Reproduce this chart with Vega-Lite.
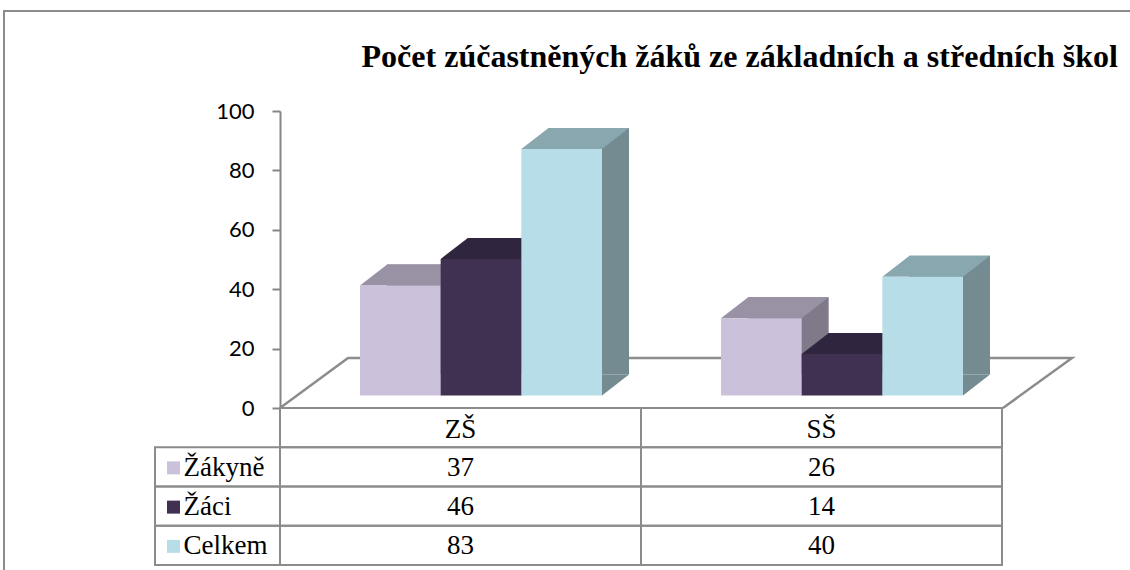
{
  "$schema": "https://vega.github.io/schema/vega-lite/v6.json",
  "width": 1126,
  "height": 559,
  "autosize": {"type": "none"},
  "padding": {"left": 4, "top": 11, "right": 0, "bottom": 0},
  "background": "white",
  "config": {"view": {"stroke": "#8c8c8c", "strokeWidth": 2, "strokeDash": [1126, 1685, 559, 1]}, "font": "Liberation Serif"},
  "title": {
    "text": "Počet zúčastněných žáků ze základních a středních škol",
    "font": "Liberation Serif", "fontSize": 32, "fontWeight": "bold", "color": "#000000",
    "anchor": "end", "frame": "group", "orient": "top", "offset": -88, "dx": -12, "baseline": "alphabetic"
  },
  "data": {"values": [
    {"skola": "ZŠ", "skupina": "Žákyně", "pocet": 37},
    {"skola": "ZŠ", "skupina": "Žáci", "pocet": 46},
    {"skola": "ZŠ", "skupina": "Celkem", "pocet": 83},
    {"skola": "SŠ", "skupina": "Žákyně", "pocet": 26},
    {"skola": "SŠ", "skupina": "Žáci", "pocet": 14},
    {"skola": "SŠ", "skupina": "Celkem", "pocet": 40}
  ]},
  "layer": [
    {
      "layer": [
        {
          "data": {"values": [{}]},
          "mark": {"type": "point", "shape": "M-3.61,0L-2.25,-1L12.23,-1L10.85,0", "size": 10000, "filled": false, "color": "#8c8c8c", "strokeWidth": 2.5, "opacity": 1},
          "encoding": {
            "x": {"datum": "ZŠ", "type": "nominal", "scale": {"domain": ["ZŠ", "SŠ"], "range": [276, 998], "paddingInner": 0, "paddingOuter": 0}, "axis": null},
            "y": {"datum": 0, "type": "quantitative", "scale": {"domain": [0, 100], "range": [397, 100], "nice": false, "zero": true},
                  "axis": {"values": [0, 20, 40, 60, 80, 100], "offset": -276, "title": null, "grid": false, "domainColor": "#868686", "domainWidth": 2, "tickColor": "#868686", "tickWidth": 2, "tickSize": 8, "labelFont": "Lato", "labelFontSize": 22, "labelColor": "#000000", "labelPadding": 18}}
          }
        },
        {
          "mark": {"type": "bar", "yOffset": -33.5, "y2Offset": -33.5},
          "encoding": {
            "x": {"field": "skola", "type": "nominal", "scale": {"domain": ["ZŠ", "SŠ"], "range": [276, 998], "paddingInner": 0, "paddingOuter": 0}, "axis": null},
            "xOffset": {"field": "skupina", "type": "nominal", "scale": {"domain": ["Žákyně", "Žáci", "Celkem"], "range": [107, 349], "paddingInner": 0, "paddingOuter": 0}},
            "y": {"field": "pocet", "type": "quantitative", "scale": {"domain": [0, 100], "range": [397, 100], "nice": false, "zero": true},
                  "axis": {"values": [0, 20, 40, 60, 80, 100], "offset": -276, "title": null, "grid": false, "domainColor": "#868686", "domainWidth": 2, "tickColor": "#868686", "tickWidth": 2, "tickSize": 8, "labelFont": "Lato", "labelFontSize": 22, "labelColor": "#000000", "labelPadding": 18}},
            "y2": {"datum": 0},
            "color": {"field": "skupina", "type": "nominal", "scale": {"domain": ["Žákyně", "Žáci", "Celkem"], "range": ["#807989", "#281F34", "#738B91"]}, "legend": null}
          }
        },
        {
          "mark": {"type": "point", "shape": "M0.8067,-0.42L1.3467,-0.42L0.8067,0Z", "size": 10000, "filled": true, "opacity": 1, "yOffset": -12.5},
          "encoding": {
            "x": {"field": "skola", "type": "nominal", "scale": {"domain": ["ZŠ", "SŠ"], "range": [276, 998], "paddingInner": 0, "paddingOuter": 0}, "axis": null},
            "xOffset": {"field": "skupina", "type": "nominal", "scale": {"type": "point", "domain": ["Žákyně", "Žáci", "Celkem"], "range": [120.33, 281.67], "padding": 0}},
            "y": {"datum": 0, "type": "quantitative", "scale": {"domain": [0, 100], "range": [397, 100], "nice": false, "zero": true},
                  "axis": {"values": [0, 20, 40, 60, 80, 100], "offset": -276, "title": null, "grid": false, "domainColor": "#868686", "domainWidth": 2, "tickColor": "#868686", "tickWidth": 2, "tickSize": 8, "labelFont": "Lato", "labelFontSize": 22, "labelColor": "#000000", "labelPadding": 18}},
            "color": {"field": "skupina", "type": "nominal", "scale": {"domain": ["Žákyně", "Žáci", "Celkem"], "range": ["#807989", "#281F34", "#738B91"]}, "legend": null}
          }
        },
        {
          "mark": {"type": "point", "shape": "M-0.8067,0L0.8067,0L1.3467,-0.42L-0.2633,-0.42Z", "size": 10000, "filled": true, "opacity": 1, "yOffset": -12.5},
          "encoding": {
            "x": {"field": "skola", "type": "nominal", "scale": {"domain": ["ZŠ", "SŠ"], "range": [276, 998], "paddingInner": 0, "paddingOuter": 0}, "axis": null},
            "xOffset": {"field": "skupina", "type": "nominal", "scale": {"type": "point", "domain": ["Žákyně", "Žáci", "Celkem"], "range": [120.33, 281.67], "padding": 0}},
            "y": {"field": "pocet", "type": "quantitative", "scale": {"domain": [0, 100], "range": [397, 100], "nice": false, "zero": true},
                  "axis": {"values": [0, 20, 40, 60, 80, 100], "offset": -276, "title": null, "grid": false, "domainColor": "#868686", "domainWidth": 2, "tickColor": "#868686", "tickWidth": 2, "tickSize": 8, "labelFont": "Lato", "labelFontSize": 22, "labelColor": "#000000", "labelPadding": 18}},
            "color": {"field": "skupina", "type": "nominal", "scale": {"domain": ["Žákyně", "Žáci", "Celkem"], "range": ["#9991A4", "#30253E", "#89A7AE"]}, "legend": null}
          }
        },
        {
          "mark": {"type": "bar", "yOffset": -12.5, "y2Offset": -12.5},
          "encoding": {
            "x": {"field": "skola", "type": "nominal", "scale": {"domain": ["ZŠ", "SŠ"], "range": [276, 998], "paddingInner": 0, "paddingOuter": 0}, "axis": null},
            "xOffset": {"field": "skupina", "type": "nominal", "scale": {"domain": ["Žákyně", "Žáci", "Celkem"], "range": [80, 322], "paddingInner": 0, "paddingOuter": 0}},
            "y": {"field": "pocet", "type": "quantitative", "scale": {"domain": [0, 100], "range": [397, 100], "nice": false, "zero": true},
                  "axis": {"values": [0, 20, 40, 60, 80, 100], "offset": -276, "title": null, "grid": false, "domainColor": "#868686", "domainWidth": 2, "tickColor": "#868686", "tickWidth": 2, "tickSize": 8, "labelFont": "Lato", "labelFontSize": 22, "labelColor": "#000000", "labelPadding": 18}},
            "y2": {"datum": 0},
            "color": {"field": "skupina", "type": "nominal", "scale": {"domain": ["Žákyně", "Žáci", "Celkem"], "range": ["#CCC1DA", "#403152", "#B7DEE8"]}, "legend": null}
          }
        }
      ],
      "resolve": {"scale": {"color": "independent", "xOffset": "independent"}}
    },
    {
      "layer": [
        {
          "mark": {"type": "rect", "fill": "#ffffff", "fillOpacity": 0, "stroke": "#8c8c8c", "strokeWidth": 2},
          "encoding": {
            "x": {"field": "skola", "type": "nominal", "scale": {"domain": ["ZŠ", "SŠ"], "range": [276, 998], "paddingInner": 0, "paddingOuter": 0}, "axis": null},
            "y": {"field": "skupina", "type": "nominal", "scale": {"domain": ["header", "Žákyně", "Žáci", "Celkem"], "range": [397, 554], "paddingInner": 0, "paddingOuter": 0}, "axis": null}
          }
        },
        {
          "transform": [{"filter": "datum.skupina === 'Žákyně'"}],
          "mark": {"type": "rect", "fill": "#ffffff", "fillOpacity": 0, "stroke": "#8c8c8c", "strokeWidth": 2},
          "encoding": {
            "x": {"field": "skola", "type": "nominal", "scale": {"domain": ["ZŠ", "SŠ"], "range": [276, 998], "paddingInner": 0, "paddingOuter": 0}, "axis": null},
            "y": {"datum": "header", "type": "nominal", "scale": {"domain": ["header", "Žákyně", "Žáci", "Celkem"], "range": [397, 554], "paddingInner": 0, "paddingOuter": 0}, "axis": null}
          }
        },
        {
          "transform": [{"filter": "datum.skola === 'ZŠ'"}],
          "mark": {"type": "rect", "fill": "#ffffff", "fillOpacity": 0, "stroke": "#8c8c8c", "strokeWidth": 2, "width": 125, "xOffset": -243},
          "encoding": {
            "x": {"field": "skola", "type": "nominal", "scale": {"domain": ["ZŠ", "SŠ"], "range": [276, 998], "paddingInner": 0, "paddingOuter": 0}, "axis": null},
            "y": {"field": "skupina", "type": "nominal", "scale": {"domain": ["header", "Žákyně", "Žáci", "Celkem"], "range": [397, 554], "paddingInner": 0, "paddingOuter": 0}, "axis": null}
          }
        },
        {
          "transform": [{"filter": "datum.skola === 'ZŠ'"}],
          "mark": {"type": "point", "shape": "square", "size": 169, "filled": true, "opacity": 1, "xOffset": -287, "yOffset": 1},
          "encoding": {
            "x": {"field": "skola", "type": "nominal", "scale": {"domain": ["ZŠ", "SŠ"], "range": [276, 998], "paddingInner": 0, "paddingOuter": 0}, "axis": null},
            "y": {"field": "skupina", "type": "nominal", "scale": {"domain": ["header", "Žákyně", "Žáci", "Celkem"], "range": [397, 554], "paddingInner": 0, "paddingOuter": 0}, "axis": null},
            "color": {"field": "skupina", "type": "nominal", "scale": {"domain": ["Žákyně", "Žáci", "Celkem"], "range": ["#CCC1DA", "#403152", "#B7DEE8"]}, "legend": null}
          }
        },
        {
          "transform": [{"filter": "datum.skola === 'ZŠ'"}],
          "mark": {"type": "text", "align": "left", "baseline": "middle", "xOffset": -277, "dy": 1, "font": "Liberation Serif", "fontSize": 27, "color": "#000000"},
          "encoding": {
            "x": {"field": "skola", "type": "nominal", "scale": {"domain": ["ZŠ", "SŠ"], "range": [276, 998], "paddingInner": 0, "paddingOuter": 0}, "axis": null},
            "y": {"field": "skupina", "type": "nominal", "scale": {"domain": ["header", "Žákyně", "Žáci", "Celkem"], "range": [397, 554], "paddingInner": 0, "paddingOuter": 0}, "axis": null},
            "text": {"field": "skupina", "type": "nominal"}
          }
        },
        {
          "mark": {"type": "text", "align": "center", "baseline": "middle", "dy": 1, "font": "Liberation Serif", "fontSize": 27, "color": "#000000"},
          "encoding": {
            "x": {"field": "skola", "type": "nominal", "scale": {"domain": ["ZŠ", "SŠ"], "range": [276, 998], "paddingInner": 0, "paddingOuter": 0}, "axis": null},
            "y": {"field": "skupina", "type": "nominal", "scale": {"domain": ["header", "Žákyně", "Žáci", "Celkem"], "range": [397, 554], "paddingInner": 0, "paddingOuter": 0}, "axis": null},
            "text": {"field": "pocet", "type": "quantitative"}
          }
        },
        {
          "transform": [{"filter": "datum.skupina === 'Žákyně'"}],
          "mark": {"type": "text", "align": "center", "baseline": "middle", "dy": 2, "font": "Liberation Serif", "fontSize": 27, "color": "#000000"},
          "encoding": {
            "x": {"field": "skola", "type": "nominal", "scale": {"domain": ["ZŠ", "SŠ"], "range": [276, 998], "paddingInner": 0, "paddingOuter": 0}, "axis": null},
            "y": {"datum": "header", "type": "nominal", "scale": {"domain": ["header", "Žákyně", "Žáci", "Celkem"], "range": [397, 554], "paddingInner": 0, "paddingOuter": 0}, "axis": null},
            "text": {"field": "skola", "type": "nominal"}
          }
        }
      ],
      "resolve": {"scale": {"color": "independent"}}
    }
  ],
  "resolve": {"scale": {"y": "independent", "color": "independent", "xOffset": "independent"}, "axis": {"y": "independent"}}
}
